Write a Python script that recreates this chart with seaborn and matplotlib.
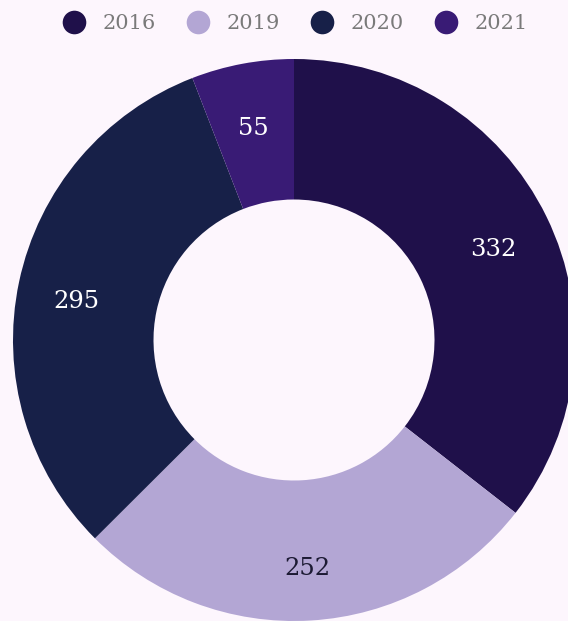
import matplotlib
matplotlib.use("Agg")
import matplotlib.pyplot as plt
from matplotlib.lines import Line2D
import seaborn as sns
import numpy as np

# Data
years = ["2016", "2019", "2020", "2021"]
counts = [332, 252, 295, 55]
colors = ["#1f104a", "#b3a6d4", "#172048", "#391b75"]
label_colors = ["white", "#1c1a33", "white", "white"]

bg = "#fdf6fd"

sns.set_theme(style="white")
plt.rcParams["font.family"] = ["DejaVu Serif", "DejaVu Sans"]

fig = plt.figure(figsize=(5.68, 6.21), dpi=100, facecolor=bg)
ax = fig.add_axes([13 / 568, 0, 562 / 568, 562 / 621])
ax.set_facecolor(bg)

palette = sns.color_palette(colors)
wedges, texts = ax.pie(
    counts,
    colors=palette,
    startangle=90,
    counterclock=False,
    radius=1,
    wedgeprops=dict(width=0.5, linewidth=0),
)

# value labels in the middle of the ring
for w, val, lc in zip(wedges, counts, label_colors):
    mid = np.deg2rad((w.theta1 + w.theta2) / 2)
    r = 0.79
    ax.text(r * np.cos(mid), r * np.sin(mid) - 0.025, str(val), ha="center",
            va="center", fontsize=17.5, color=lc)

ax.set_xlim(-1, 1)
ax.set_ylim(-1, 1)
ax.set_aspect("equal")
ax.axis("off")

# Legend
handles = [Line2D([0], [0], marker="o", linestyle="none", markersize=17,
                  markerfacecolor=c, markeredgewidth=0) for c in colors]
leg = fig.legend(handles, years, loc="center", bbox_to_anchor=(0.517, 0.962),
                 ncol=4, frameon=False, fontsize=15, handlelength=1.4,
                 handletextpad=0.65, columnspacing=1.35)
for t in leg.get_texts():
    t.set_color("#7a7a7a")

fig.savefig("out.png", dpi=100, facecolor=bg)
